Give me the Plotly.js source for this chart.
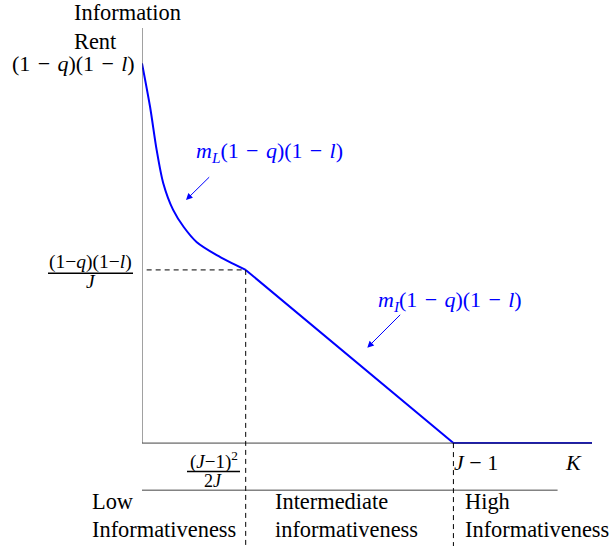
<!DOCTYPE html>
<html><head><meta charset="utf-8">
<script src="https://cdn.plot.ly/plotly-3.0.1.min.js"></script>
<style>html,body{margin:0;padding:0;background:#fff}</style>
</head><body><div id="chart" style="width:612px;height:546px"></div>
<script>
// ---- data (K in units of J-1, rent in units of (1-q)(1-l)) ----
const curveK    = [0, 0.026, 0.047, 0.068, 0.100, 0.134, 0.176, 0.240, 0.333];
const curveRent = [1, 0.885, 0.772, 0.685, 0.614, 0.569, 0.529, 0.495, 0.456];
const lineK     = [0.333, 1, 1.445];
const lineRent  = [0.456, 0, 0];
const kinkK = 0.333, highK = 1, kinkRent = 0.456;
const xMax = 1.445, yTop = 1.093, yBottom = -0.271, sepY = -0.124, sepEnd = 1.3345;

const S = '\u2004'; // math-like spacing around binary minus
const yTickTop  = '(1' + S + '−' + S + '<i>q</i>)(1' + S + '−' + S + '<i>l</i>)';
const yFracNum  = '(1−<i>q</i>)(1−<i>l</i>)';
const yFracDen  = '<i>J</i>';
const xFracNum  = '(<i>J</i>−1)<sup>2</sup>';
const xFracDen  = '2<i>J</i>';
const xTickHigh = '<i>J</i> − 1';
const xTitle    = '<i>K</i>';
const labelL    = '<i>m</i><sub><i>L</i></sub>(1' + S + '−' + S + '<i>q</i>)(1' + S + '−' + S + '<i>l</i>)';
const labelI    = '<i>m</i><sub><i>I</i></sub>(1' + S + '−' + S + '<i>q</i>)(1' + S + '−' + S + '<i>l</i>)';
const regions   = [['Low', 'Informativeness'], ['Intermediate', 'informativeness'], ['High', 'Informativeness']];

// ---- layout helpers (pixel -> paper) ----
const W = 612, H = 546, L = 142, R = 20, T = 28, B = 0;
const pw = W - L - R, ph = H - T - B;
const PX = v => (v - L) / pw;
const PY = v => (H - B - v) / ph;
const FONT = 'Liberation Serif';
const BLUE = '#0000ff';

function txt(text, x, y, xanchor, size, color) {
  return {text: text, xref: 'paper', yref: 'paper', x: PX(x), y: PY(y),
    xanchor: xanchor, yanchor: 'middle', showarrow: false,
    font: {family: FONT, size: size, color: color || '#000'}};
}
function arrow(hx, hy, tx, ty) {
  return {text: '', xref: 'paper', yref: 'paper', x: PX(hx), y: PY(hy),
    ax: tx - hx, ay: ty - hy, showarrow: true, arrowhead: 2, arrowsize: 1.3,
    arrowwidth: 1, arrowcolor: BLUE, standoff: 0, startstandoff: 0};
}
function bar(x0, x1, y) {
  return {type: 'line', xref: 'paper', yref: 'paper', x0: PX(x0), x1: PX(x1), y0: PY(y), y1: PY(y),
    line: {color: '#000', width: 1.6}};
}

const traces = [
  {x: curveK, y: curveRent, mode: 'lines', line: {color: BLUE, width: 2, shape: 'spline', smoothing: 0.8}, cliponaxis: false, hoverinfo: 'skip'},
  {x: lineK, y: lineRent, mode: 'lines', line: {color: BLUE, width: 2}, cliponaxis: false, hoverinfo: 'skip'}
];

const axisCol = '#444';
const dash = '5px,4px';
const shapes = [
  {type: 'line', xref: 'x', yref: 'y', x0: 0, x1: 0, y0: 0, y1: yTop, line: {color: axisCol, width: 1}},
  {type: 'line', xref: 'x', yref: 'y', x0: 0, x1: xMax, y0: 0, y1: 0, line: {color: axisCol, width: 1}},
  {type: 'line', xref: 'x', yref: 'y', x0: 0, x1: sepEnd, y0: sepY, y1: sepY, line: {color: axisCol, width: 1}},
  {type: 'line', xref: 'x', yref: 'y', x0: 0.015, x1: kinkK, y0: kinkRent, y1: kinkRent, line: {color: '#000', width: 1, dash: dash}},
  {type: 'line', xref: 'x', yref: 'y', x0: kinkK, x1: kinkK, y0: kinkRent, y1: yBottom, line: {color: '#000', width: 1, dash: dash}},
  {type: 'line', xref: 'x', yref: 'y', x0: highK, x1: highK, y0: 0, y1: yBottom, line: {color: '#000', width: 1, dash: dash}},
  bar(48, 133, 273.3),
  bar(187, 240, 471.5)
];

const annotations = [
  txt('Information', 72, 12, 'left', 22.4),
  txt('Rent', 72, 42, 'left', 22.4),
  txt(yTickTop, 137, 64, 'right', 22),
  txt(yFracNum, 90.5, 261.5, 'center', 19.5),
  txt(yFracDen, 90.5, 281, 'center', 19.5),
  txt(xFracNum, 213.5, 460.5, 'center', 19),
  txt(xFracDen, 213, 481, 'center', 18),
  txt(xTickHigh, 452, 462, 'left', 22),
  txt(xTitle, 573, 462, 'center', 22),
  txt(regions[0][0], 90, 501.5, 'left', 22.4),
  txt(regions[0][1], 90, 529.5, 'left', 22.4),
  txt(regions[1][0], 272.5, 501.5, 'left', 22.4),
  txt(regions[1][1], 272.5, 529.5, 'left', 22.4),
  txt(regions[2][0], 463, 501.5, 'left', 22.4),
  txt(regions[2][1], 463, 529.5, 'left', 22.4),
  txt(labelL, 194, 152, 'left', 22, BLUE),
  txt(labelI, 376, 301, 'left', 22, BLUE),
  arrow(186, 200, 210.7, 175.7),
  arrow(367.3, 347.7, 401.7, 313.3)
];

const layout = {
  width: W, height: H,
  margin: {l: L, r: R, t: T, b: B, pad: 0},
  paper_bgcolor: '#fff', plot_bgcolor: '#fff',
  showlegend: false,
  xaxis: {range: [0, xMax], visible: false, fixedrange: true},
  yaxis: {range: [yBottom, yTop], visible: false, fixedrange: true},
  shapes: shapes,
  annotations: annotations,
  font: {family: FONT, size: 22, color: '#000'}
};

Plotly.newPlot('chart', traces, layout, {displayModeBar: false, staticPlot: true});
</script>
</body></html>
